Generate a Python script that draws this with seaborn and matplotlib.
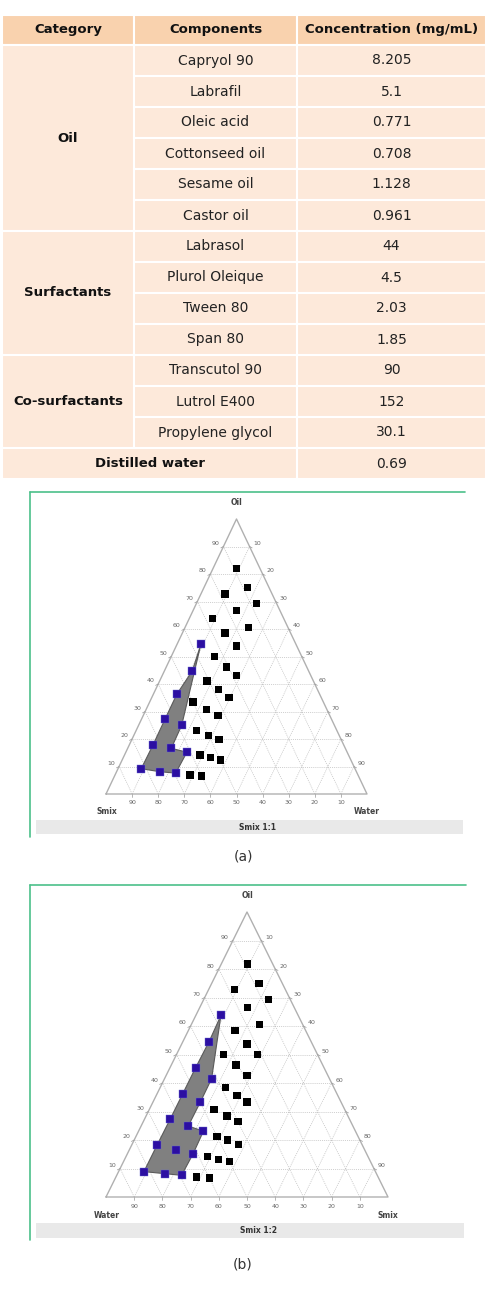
import numpy as np
import pandas as pd
import matplotlib
matplotlib.use("Agg")
import matplotlib.pyplot as plt
import seaborn as sns
from matplotlib.patches import Rectangle

sns.set_style("white")
plt.rcParams['font.family'] = ['DejaVu Sans']

# ---- table data ----
headers = ["Category", "Components", "Concentration (mg/mL)"]
categories = ["Oil", "Surfactants", "Co-surfactants"]
category_sizes = [6, 4, 3]
components = ["Capryol 90", "Labrafil", "Oleic acid", "Cottonseed oil", "Sesame oil", "Castor oil",
              "Labrasol", "Plurol Oleique", "Tween 80", "Span 80",
              "Transcutol 90", "Lutrol E400", "Propylene glycol"]
concentrations = ["8.205", "5.1", "0.771", "0.708", "1.128", "0.961",
                  "44", "4.5", "2.03", "1.85",
                  "90", "152", "30.1"]
water_name = "Distilled water"
water_conc = "0.69"

# ---- ternary data, (a) Smix 1:1 : oil %, water % ----
a_region_oil = [9.2, 18.0, 27.2, 36.4, 44.7, 54.6, 25.0, 16.6, 15.2, 7.6, 8.1]
a_region_water = [8.9, 9.1, 9.0, 9.0, 10.7, 9.1, 16.5, 16.7, 23.4, 22.9, 16.6]
a_black_oil = [82.0, 75.2, 72.7, 69.3, 66.7, 63.7, 60.6, 58.5, 53.8, 50.0, 46.2, 43.0, 41.1,
               37.9, 35.1, 33.4, 30.7, 28.5, 23.1, 21.2, 19.9, 14.2, 13.3, 12.4, 6.9, 6.6]
a_black_water = [9.0, 16.5, 9.2, 23.1, 16.6, 9.0, 24.2, 16.4, 23.1, 16.6, 23.1, 28.5, 18.1,
                 24.2, 29.6, 16.6, 23.1, 28.6, 23.0, 28.7, 33.4, 28.9, 33.5, 37.6, 28.7, 33.3]

# ---- (b) Smix 1:2 : oil %, smix % ----
b_region_oil = [8.9, 18.1, 27.2, 36.3, 45.4, 54.4, 63.7, 41.5, 33.3, 24.9, 23.1, 15.2, 7.6, 8.2]
b_region_smix = [9.0, 9.0, 9.1, 9.1, 9.1, 9.3, 8.9, 16.7, 16.8, 16.7, 23.0, 23.3, 23.0, 16.7]
b_inner_oil = [16.4]
b_inner_smix = [16.6]
b_black_oil = [81.8, 74.8, 72.7, 69.2, 66.6, 60.5, 58.4, 53.7, 49.9, 49.9, 46.3, 42.7, 38.5,
               35.6, 33.3, 30.7, 28.4, 26.5, 21.3, 20.0, 18.5, 14.2, 13.2, 12.4, 7.0, 6.7]
b_black_smix = [9.2, 16.8, 9.2, 23.1, 16.8, 24.2, 16.6, 23.2, 28.7, 16.7, 23.0, 28.7, 23.1,
                28.6, 33.4, 23.0, 28.7, 33.6, 28.7, 33.2, 37.7, 29.0, 33.4, 37.5, 28.6, 33.3]

ticks = list(range(10, 100, 10))

W, H = 486, 1296
fig = plt.figure(figsize=(W / 100, H / 100), dpi=100)
bg = fig.add_axes([0, 0, 1, 1])
bg.set_xlim(0, W)
bg.set_ylim(H, 0)
bg.axis("off")

# ---- table ----
head_c = "#f9d2ae"
body_c = "#fde9da"
col_x = [2, 134, 297, 486]
top, head_h, row_h = 15, 30, 31
for i, h in enumerate(headers):
    bg.add_patch(Rectangle((col_x[i], top), col_x[i + 1] - col_x[i], head_h,
                           fc=head_c, ec="white", lw=1.5))
    bg.text((col_x[i] + col_x[i + 1]) / 2, top + head_h / 2, h, ha="center", va="center",
            fontsize=9.5, fontweight="bold", color="#111")
y0 = top + head_h
r = 0
for cat, n in zip(categories, category_sizes):
    bg.add_patch(Rectangle((col_x[0], y0 + r * row_h), col_x[1] - col_x[0], n * row_h,
                           fc=body_c, ec="white", lw=1.5))
    bg.text((col_x[0] + col_x[1]) / 2, y0 + (r + n / 2) * row_h, cat, ha="center", va="center",
            fontsize=9.5, fontweight="bold", color="#111")
    r += n
for i, (comp, conc) in enumerate(zip(components, concentrations)):
    yy = y0 + i * row_h
    for j, t in enumerate([comp, conc]):
        bg.add_patch(Rectangle((col_x[j + 1], yy), col_x[j + 2] - col_x[j + 1], row_h,
                               fc=body_c, ec="white", lw=1.5))
        bg.text((col_x[j + 1] + col_x[j + 2]) / 2, yy + row_h / 2, t, ha="center", va="center",
                fontsize=10, color="#222")
yy = y0 + len(components) * row_h
bg.add_patch(Rectangle((col_x[0], yy), col_x[2] - col_x[0], row_h, fc=body_c, ec="white", lw=1.5))
bg.add_patch(Rectangle((col_x[2], yy), col_x[3] - col_x[2], row_h, fc=body_c, ec="white", lw=1.5))
bg.text((col_x[0] + col_x[2]) / 2, yy + row_h / 2, water_name, ha="center", va="center",
        fontsize=9.5, fontweight="bold", color="#111")
bg.text((col_x[2] + col_x[3]) / 2, yy + row_h / 2, water_conc, ha="center", va="center",
        fontsize=10, color="#222")


def panel_frame(x0, x1, y_top, y_bot, bar_top, bar_bot, title, caption_y, caption):
    bg.plot([x0, x1], [y_top, y_top], color="#4cc08a", lw=1.2)
    bg.plot([x0, x0], [y_top, y_bot], color="#4cc08a", lw=1.2)
    bg.add_patch(Rectangle((x0 + 6, bar_top), x1 - x0 - 8, bar_bot - bar_top, fc="#e9e9e9", ec="none"))
    bg.text((x0 + x1) / 2 + 10, (bar_top + bar_bot) / 2, title, ha="center", va="center",
            fontsize=5.5, fontweight="bold", color="#333")
    bg.text(243, caption_y, caption, ha="center", va="center", fontsize=10, color="#333")


def ternary(rect, reg_oil, reg_right, black_oil, black_right, inner_oil, inner_right,
            left_name, right_name):
    ax = fig.add_axes(rect)
    ax.patch.set_alpha(0)
    gkw = dict(color="#bdbdbd", lw=0.5, ls=(0, (1.5, 1.5)), zorder=1)
    for k in ticks:
        ax.plot([k / 2, 100 - k / 2], [k, k], **gkw)
        ax.plot([k, k + (100 - k) / 2], [0, 100 - k], **gkw)
        ax.plot([100 - k, (100 - k) / 2], [0, 100 - k], **gkw)
    ax.plot([0, 100, 50, 0], [0, 0, 100, 0], color="#b0b0b0", lw=1.0, zorder=2, clip_on=False)
    tk = dict(fontsize=4.5, color="#666", ha="center", va="center", textcoords="offset pixels")
    for v in ticks:
        ax.plot([v / 2, v / 2 - 1.0], [v, v - 0.5], color="#999", lw=0.5, clip_on=False)
        ax.annotate(str(v), (v / 2, v), xytext=(-8, 3), **tk)
        ax.plot([50 + v / 2, 50 + v / 2 + 1.0], [100 - v, 100 - v - 0.5], color="#999", lw=0.5, clip_on=False)
        ax.annotate(str(v), (50 + v / 2, 100 - v), xytext=(8, 3), **tk)
        ax.plot([100 - v, 100 - v], [0, -1.2], color="#999", lw=0.5, clip_on=False)
        ax.annotate(str(v), (100 - v, 0), xytext=(0, -9), **tk)
    lk = dict(fontsize=5.5, fontweight="bold", color="#444", ha="center", va="center",
              textcoords="offset pixels")
    ax.annotate("Oil", (50, 100), xytext=(0, 16), **lk)
    ax.annotate(left_name, (0, 0), xytext=(1, -18), **lk)
    ax.annotate(right_name, (100, 0), xytext=(0, -18), **lk)

    reg_oil = np.array(reg_oil)
    reg_x = np.array(reg_right) + reg_oil / 2
    ax.fill(reg_x, reg_oil, fc="#808080", ec="#5a5a5a", lw=0.8, zorder=3)
    black = pd.DataFrame({"oil": black_oil, "right": black_right})
    black["x"] = black["right"] + black["oil"] / 2
    purple = pd.DataFrame({"oil": list(reg_oil) + list(inner_oil),
                           "right": list(reg_right) + list(inner_right)})
    purple["x"] = purple["right"] + purple["oil"] / 2
    sns.scatterplot(data=black, x="x", y="oil", marker="s", s=28, color="black",
                    edgecolor="none", ax=ax, legend=False, zorder=4)
    sns.scatterplot(data=purple, x="x", y="oil", marker="s", s=28, color="#2c0fa2",
                    edgecolor="#6a6ad0", linewidth=0.3, ax=ax, legend=False, zorder=4)
    ax.set_xlim(0, 100)
    ax.set_ylim(0, 100)
    ax.axis("off")
    return ax


panel_frame(30, 465, 492, 837, 820, 834, "Smix 1:1", 857, "(a)")
ternary([106 / W, 1 - 794 / H, 261 / W, 275 / H], a_region_oil, a_region_water,
        a_black_oil, a_black_water, [], [], "Smix", "Water")

panel_frame(30, 466, 885, 1240, 1223, 1238, "Smix 1:2", 1265, "(b)")
ternary([106 / W, 1 - 1197 / H, 282 / W, 285 / H], b_region_oil, b_region_smix,
        b_black_oil, b_black_smix, b_inner_oil, b_inner_smix, "Water", "Smix")

fig.savefig("out.png", dpi=100)
